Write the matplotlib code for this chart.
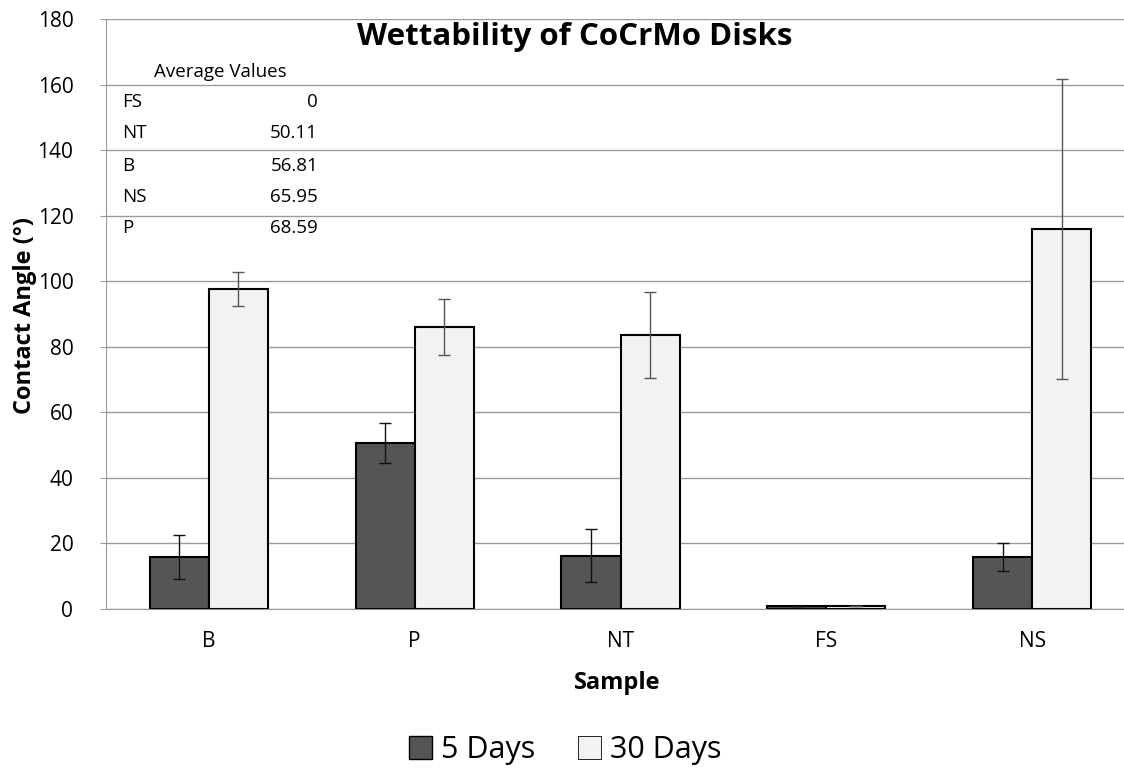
import matplotlib
matplotlib.use("Agg")
import matplotlib.pyplot as plt
import numpy as np
from matplotlib.patches import Patch

categories = ['B', 'P', 'NT', 'FS', 'NS']
days5 = [15.9, 50.6, 16.3, 0.8, 15.9]
err5 = [6.7, 6.1, 8.0, 0.0, 4.3]
days30 = [97.6, 86.0, 83.6, 0.8, 116.0]
err30 = [5.2, 8.5, 13.1, 0.0, 45.7]
series_names = ['5 Days', '30 Days']
table_labels = ['FS', 'NT', 'B', 'NS', 'P']
table_values = ['0', '50.11', '56.81', '65.95', '68.59']

plt.rcParams['font.family'] = ['Open Sans', 'DejaVu Sans']

W, H = 1124, 769
fig = plt.figure(figsize=(W / 100, H / 100), dpi=100)
left, right, top, bottom = 106, 1135, 19, 609
ax = fig.add_axes([left / W, 1 - bottom / H, (right - left) / W, (bottom - top) / H])

x = np.arange(len(categories))
bw = 0.287
c5 = '#555555'
c30 = '#F2F2F2'
ax.bar(x - bw / 2, days5, bw, color=c5, edgecolor='black', linewidth=1.5, zorder=3)
ax.bar(x + bw / 2, days30, bw, color=c30, edgecolor='black', linewidth=1.5, zorder=3)
ax.errorbar(x - bw / 2, days5, yerr=err5, fmt='none', ecolor='#111111', elinewidth=1.0,
            capsize=4.5, capthick=1.0, zorder=4)
ax.errorbar(x + bw / 2, days30, yerr=err30, fmt='none', ecolor='#555555', elinewidth=1.0,
            capsize=4.5, capthick=1.0, zorder=4)

ax.set_xlim(-0.5, len(categories) - 0.5)
ax.set_ylim(0, 180)
ax.set_yticks(np.arange(0, 181, 20))
ax.set_xticks(x)
ax.set_xticklabels(categories)
ax.yaxis.grid(True, color='#9A9A9A', linewidth=1.0, zorder=0)
ax.set_axisbelow(True)
for s in ['top', 'right']:
    ax.spines[s].set_visible(False)
ax.spines['left'].set_color('#9A9A9A')
ax.spines['bottom'].set_color('#9A9A9A')
ax.tick_params(axis='y', length=4.5, color='#9A9A9A', labelsize=15, pad=19)
ax.tick_params(axis='x', length=0, labelsize=15, pad=16)

fig.text(575 / W, 1 - 37 / H, 'Wettability of CoCrMo Disks', fontsize=22.5, fontweight='bold',
         ha='center', va='center')
fig.text(25 / W, 1 - 315 / H, 'Contact Angle (°)', fontsize=17, fontweight='bold',
         rotation=90, ha='center', va='center')
fig.text(617 / W, 1 - 683 / H, 'Sample', fontsize=17, fontweight='bold', ha='center', va='center')

# table of average values
fig.text(220 / W, 1 - 72 / H, 'Average Values', fontsize=13.5, ha='center', va='center')
row_y = [102, 133, 166, 197, 228]
for lab, val, yy in zip(table_labels, table_values, row_y):
    fig.text(122 / W, 1 - yy / H, lab, fontsize=13.5, ha='left', va='center')
    fig.text(318 / W, 1 - yy / H, val, fontsize=13.5, ha='right', va='center')

handles = [Patch(facecolor=c5, edgecolor='black', linewidth=1),
           Patch(facecolor=c30, edgecolor='black', linewidth=0.6)]
fig.legend(handles, series_names, loc='center', bbox_to_anchor=(565 / W, 1 - 750 / H),
           ncol=2, frameon=False, fontsize=22, handlelength=0.75, handleheight=0.75,
           handletextpad=0.3, columnspacing=1.4)

fig.savefig('out.png', dpi=100)
